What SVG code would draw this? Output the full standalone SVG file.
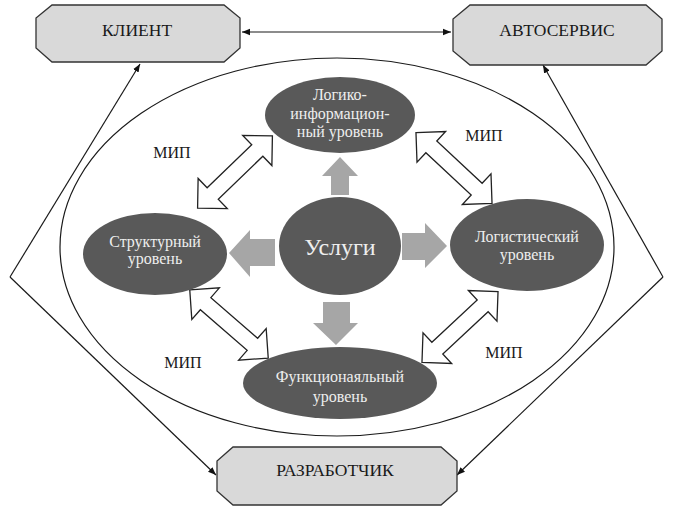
<svg xmlns="http://www.w3.org/2000/svg" width="675" height="511" viewBox="0 0 675 511">
<defs>
<marker id="ah" viewBox="0 0 10 10" refX="10" refY="5" markerWidth="8" markerHeight="8" markerUnits="userSpaceOnUse" orient="auto-start-reverse">
<path d="M0,1 L10,5 L0,9 Z" fill="#111"/>
</marker>
<polygon id="dbl" points="-52,0 -31,-21 -31,-8 31,-8 31,-21 52,0 31,21 31,8 -31,8 -31,21"/>
</defs>
<style>
.box{fill:#d9d9d9;stroke:#333;stroke-width:1.3}
.lvl{fill:#595959}
.ln{fill:none;stroke:#1a1a1a;stroke-width:1.2}
.mip{fill:#fff;stroke:#222;stroke-width:1.3}
.ga{fill:#a6a6a6}
.t{font-family:"Liberation Serif","DejaVu Serif",serif;fill:#1a1a1a;text-anchor:middle}
.w{font-family:"Liberation Serif","DejaVu Serif",serif;fill:#eeeeee;text-anchor:middle}
</style>
<rect width="675" height="511" fill="#fff"/>
<g id="connectors">
<line class="ln" x1="242" y1="32" x2="451" y2="32" marker-start="url(#ah)" marker-end="url(#ah)"/>
<polyline class="ln" points="10,277 140,64" marker-end="url(#ah)"/>
<polyline class="ln" points="10,277 216,475" marker-end="url(#ah)"/>
<polyline class="ln" points="663,277 543,65" marker-end="url(#ah)"/>
<polyline class="ln" points="663,277 457,475" marker-end="url(#ah)"/>
<ellipse class="ln" cx="337" cy="247" rx="277" ry="189"/>
</g>
<g id="klient">
<polygon class="box" points="52,5 224,5 240,18 240,48 224,62 52,62 36,48 36,18"/>
<text class="t" x="137" y="36" font-size="17.5">КЛИЕНТ</text>
</g>
<g id="avtoservis">
<polygon class="box" points="470,5 646,5 662,19 662,51 646,65 470,65 453,51 453,19"/>
<text class="t" x="557" y="36" font-size="17.5">АВТОСЕРВИС</text>
</g>
<g id="razrabotchik">
<polygon class="box" points="233,447 441,447 457,461 457,491 441,505 233,505 217,491 217,461"/>
<text class="t" x="335" y="476" font-size="17.5">РАЗРАБОТЧИК</text>
</g>
<g id="mip-arrows">
<use href="#dbl" class="mip" transform="translate(235,172) rotate(-44)"/>
<use href="#dbl" class="mip" transform="translate(454,168) rotate(43)"/>
<use href="#dbl" class="mip" transform="translate(229,324) rotate(41)"/>
<use href="#dbl" class="mip" transform="translate(460,327) rotate(-43)"/>
<text class="t" x="172" y="158" font-size="16">МИП</text>
<text class="t" x="484" y="141" font-size="16">МИП</text>
<text class="t" x="183" y="368" font-size="16">МИП</text>
<text class="t" x="504" y="358" font-size="16">МИП</text>
</g>
<g id="block-arrows">
<polygon class="ga" points="340,157 358,176 349,176 349,195 331,195 331,176 322,176"/>
<polygon class="ga" points="229,253 250,230 250,239 275,239 275,266 250,266 250,277"/>
<polygon class="ga" points="447,246 425,223 425,233 402,233 402,260 425,260 425,268"/>
<polygon class="ga" points="336,345 358,323 350,323 350,302 323,302 323,323 313,323"/>
</g>
<g id="logiko">
<ellipse class="lvl" cx="340" cy="115" rx="75" ry="38"/>
<text class="w" font-size="16"><tspan x="340" y="100">Логико-</tspan><tspan x="340" y="119">информацион-</tspan><tspan x="340" y="137">ный уровень</tspan></text>
</g>
<g id="uslugi">
<ellipse class="lvl" cx="340" cy="246" rx="61" ry="49"/>
<text class="w" x="340" y="255" font-size="24">Услуги</text>
</g>
<g id="struct">
<ellipse class="lvl" cx="155" cy="254" rx="72" ry="41"/>
<text class="w" font-size="16"><tspan x="155" y="247">Структурный</tspan><tspan x="155" y="264">уровень</tspan></text>
</g>
<g id="logist">
<ellipse class="lvl" cx="527" cy="245" rx="77" ry="46"/>
<text class="w" font-size="16"><tspan x="527" y="242">Логистический</tspan><tspan x="527" y="260">уровень</tspan></text>
</g>
<g id="funk">
<ellipse class="lvl" cx="340" cy="383" rx="97" ry="36"/>
<text class="w" font-size="16"><tspan x="340" y="382">Функционаяльный</tspan><tspan x="340" y="402">уровень</tspan></text>
</g>
</svg>
